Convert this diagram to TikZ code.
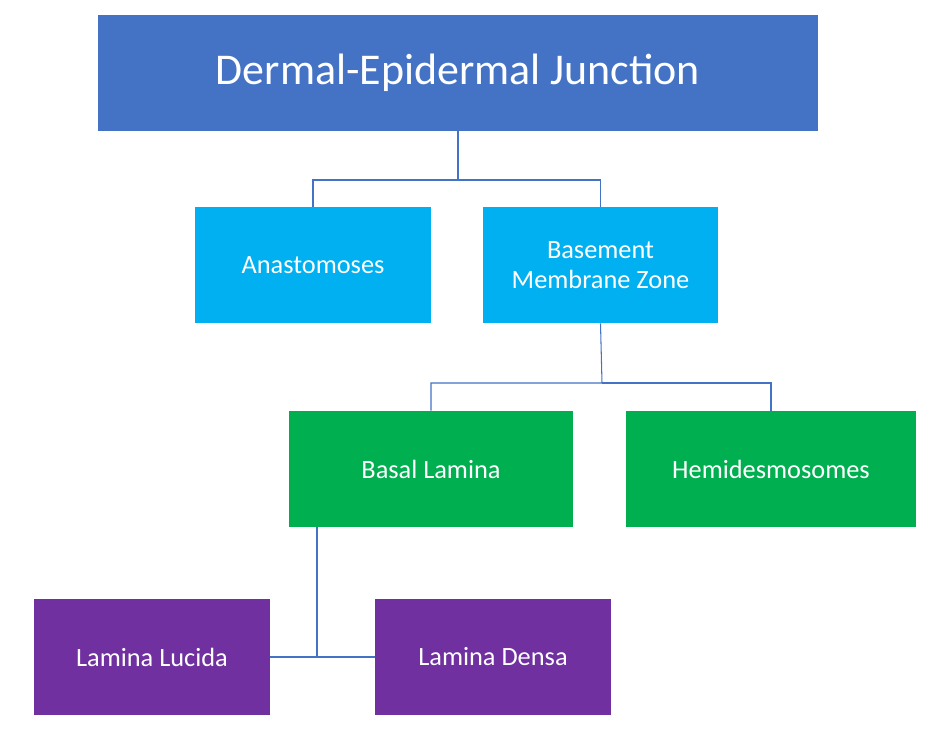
\documentclass[tikz,border=0pt]{standalone}
\usepackage{fontspec}
\setmainfont{Carlito}
\usetikzlibrary{positioning}
\definecolor{titleblue}{HTML}{4472C4}
\definecolor{skyblue}{HTML}{00B0F0}
\definecolor{leafgreen}{HTML}{00B050}
\definecolor{plum}{HTML}{7030A0}
\begin{document}
\begin{tikzpicture}[x=0.02cm, y=-0.02cm,
    every node/.style={text=white, align=center, inner sep=0pt},
    box/.style={minimum width=4.72cm, minimum height=2.32cm, font=\fontsize{15}{17}\selectfont},
    link/.style={draw=titleblue, line width=0.6pt},
]
\useasboundingbox (0,0) rectangle (946,729);
% Top level
\node[fill=titleblue, minimum width=14.4cm, minimum height=2.32cm, font=\fontsize{25}{28}\selectfont] (dej) at (458,73) {Dermal-Epidermal Junction};

% Second level
\node[box, fill=skyblue] (anast) at (313,265) {Anastomoses};
\node[box, fill=skyblue] (bmz) at (600.5,265) {Basement\\Membrane Zone};

% Third level
\node[box, fill=leafgreen, minimum width=5.68cm] (basal) at (431,469) {Basal Lamina};
\node[box, fill=leafgreen, minimum width=5.8cm] (hemi) at (771,469) {Hemidesmosomes};

% Fourth level
\node[box, fill=plum] (lucida) at (152,657) {Lamina Lucida};
\node[box, fill=plum] (densa) at (493,657) {Lamina Densa};

% Connectors
\coordinate (j1) at (458,180);
\coordinate (j2) at (602,383);
\draw[link] (dej.south) -- (j1) -| (anast.north);
\draw[link] (j1) -| (bmz.north);
\draw[link] (bmz.south) -- (j2) -| (basal.north);
\draw[link] (j2) -| (hemi.north);
\draw[link] (basal.south -| 317,0) |- (lucida.east);
\draw[link] (lucida.east) -- (densa.west);
\end{tikzpicture}
\end{document}
